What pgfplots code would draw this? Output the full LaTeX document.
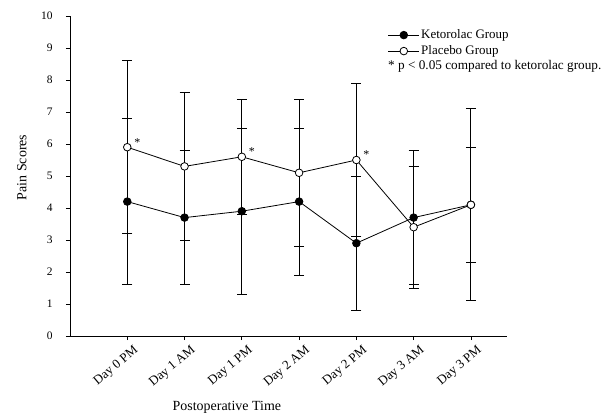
\documentclass[border=0pt]{standalone}
\usepackage{fontspec}
\setmainfont{Liberation Serif}
\usepackage{pgfplots}
\pgfplotsset{compat=1.18}
\begin{document}
\begin{tikzpicture}
\useasboundingbox (-70bp,-83bp) rectangle (540bp,336bp);
\begin{axis}[
  scale only axis,
  width=437bp, height=320bp,
  xmin=-1, xmax=6.63,
  ymin=0, ymax=10,
  axis x line*=bottom, axis y line*=left,
  axis line style={black, line width=0.9bp},
  tick align=outside,
  major tick length=4bp,
  tick style={black, line width=0.8bp},
  ytick={0,...,10},
  xtick={0,...,6},
  xticklabels={Day 0 PM, Day 1 AM, Day 1 PM, Day 2 AM, Day 2 PM, Day 3 AM, Day 3 PM},
  xticklabel style={rotate=40, anchor=north east, font=\fontsize{13}{14}\selectfont, inner sep=1bp, xshift=2.5bp, yshift=-6bp},
  yticklabel style={font=\fontsize{11.5}{13}\selectfont, xshift=-10bp},
  /pgf/number format/assume math mode=true,
  xlabel={Postoperative Time},
  ylabel={Pain Scores},
  xlabel style={at={(axis description cs:0.359,-0.222)}, anchor=center, font=\fontsize{14}{16}\selectfont},
  ylabel style={at={(axis description cs:-0.11,0.527)}, anchor=center, font=\fontsize{14}{16}\selectfont},
  legend style={at={(axis description cs:0.727,0.962)}, anchor=north west, draw=none, fill=none,
    font=\fontsize{13}{15}\selectfont, row sep=2.5bp, inner sep=0pt,
    nodes={inner sep=1.5bp}},
  legend cell align=left,
  legend image code/.code={\draw[mark repeat=2, mark phase=2, #1] plot coordinates {(0bp,0bp) (15.5bp,0bp) (31bp,0bp)};},
  clip=false,
]
\addplot[black, line width=0.8bp, mark=*, mark size=3.8bp, mark options={fill=black, solid},
  error bars/.cd, y dir=both, y explicit,
  error bar style={black, line width=0.9bp},
  error mark options={black, line width=0.9bp, mark size=5bp, rotate=90}]
  coordinates {
  (0,4.2) +- (0,2.6)
  (1,3.7) +- (0,2.1)
  (2,3.9) +- (0,2.6)
  (3,4.2) +- (0,2.3)
  (4,2.9) +- (0,2.1)
  (5,3.7) +- (0,2.1)
  (6,4.1) +- (0,3.0)
  };
\addlegendentry{Ketorolac Group}
\addplot[black, line width=0.8bp, mark=*, mark size=3.8bp, mark options={fill=white, solid},
  error bars/.cd, y dir=both, y explicit,
  error bar style={black, line width=0.9bp},
  error mark options={black, line width=0.9bp, mark size=5bp, rotate=90}]
  coordinates {
  (0,5.9) +- (0,2.7)
  (1,5.3) +- (0,2.3)
  (2,5.6) +- (0,1.8)
  (3,5.1) +- (0,2.3)
  (4,5.5) +- (0,2.4)
  (5,3.4) +- (0,1.9)
  (6,4.1) +- (0,1.8)
  };
\addlegendentry{Placebo Group}
\node[font=\fontsize{12}{13}\selectfont, inner sep=0pt] at (axis cs:0,5.9) [xshift=10bp, yshift=5bp] {*};
\node[font=\fontsize{12}{13}\selectfont, inner sep=0pt] at (axis cs:2,5.6) [xshift=10bp, yshift=5bp] {*};
\node[font=\fontsize{12}{13}\selectfont, inner sep=0pt] at (axis cs:4,5.5) [xshift=10bp, yshift=5bp] {*};
\node[anchor=west, inner sep=0pt, font=\fontsize{13.3}{15}\selectfont] at (axis description cs:0.7277,0.8416) {* p < 0.05 compared to ketorolac group.};
\end{axis}
\end{tikzpicture}
\end{document}
